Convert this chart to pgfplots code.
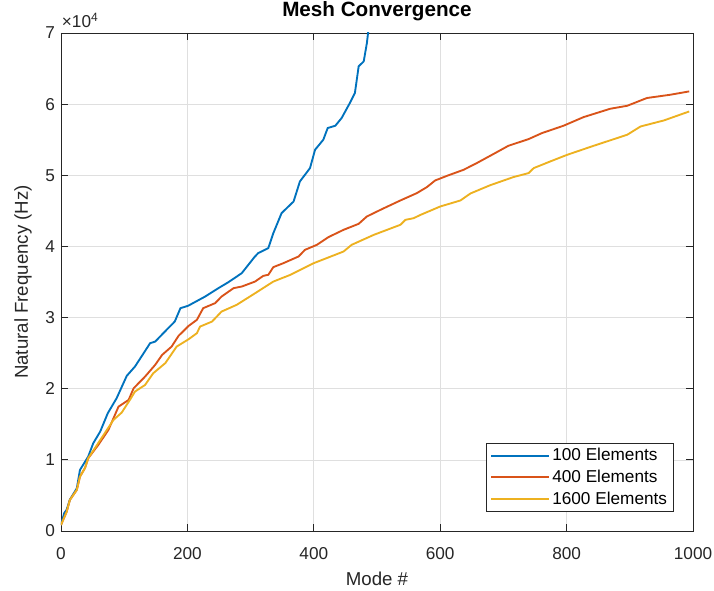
\documentclass[border=0pt]{standalone}
\usepackage{fontspec}
\setmainfont{Liberation Sans}
\usepackage{pgfplots}
\pgfplotsset{compat=1.18}
\usetikzlibrary{calc}
\definecolor{mblue}{RGB}{0,114,189}
\definecolor{mred}{RGB}{217,83,25}
\definecolor{myellow}{RGB}{237,177,32}
\definecolor{axgray}{RGB}{38,38,38}
\begin{document}
\begin{tikzpicture}
\begin{axis}[
  scale only axis,
  width=474pt, height=373.5pt,
  xmin=0, xmax=1000, ymin=0, ymax=70000,
  xtick={0,200,400,600,800,1000},
  ytick={0,10000,20000,30000,40000,50000,60000,70000},
  yticklabels={0,1,2,3,4,5,6,7},
  scaled y ticks=false,
  /pgf/number format/1000 sep={},
  /pgf/number format/assume math mode=true,
  tick label style={font=\fontsize{12.9}{15}\selectfont, color=axgray},
  xticklabel style={yshift=-9pt},
  yticklabel style={xshift=-1pt},
  tick align=inside,
  major tick length=5pt,
  axis line style={axgray, line width=0.6pt},
  every tick/.style={axgray, line width=0.6pt},
  grid=major,
  major grid style={gray!25, line width=0.5pt},
  title={\textbf{Mesh Convergence}},
  title style={font=\fontsize{15.5}{18}\selectfont, at={(0.5,1)}, anchor=south, inner sep=0pt, yshift=3pt},
  xlabel={Mode \#},
  ylabel={Natural Frequency (Hz)},
  label style={font=\fontsize{14}{16}\selectfont, color=axgray},
  xlabel style={at={(axis description cs:0.5,0)}, anchor=center, inner sep=0pt, yshift=-36pt},
  ylabel style={at={(axis description cs:-0.0601,0.5)}, anchor=center, inner sep=0pt},
  legend style={at={(0.970,0.038)}, anchor=south east, font=\fontsize{12.9}{15}\selectfont,
    draw=axgray, line width=0.5pt, fill=white, row sep=1.5pt, inner xsep=3pt, inner ysep=2pt},
  legend cell align=left,
  legend image code/.code={\draw[#1, line width=1.4pt] (0pt,0pt) -- (43pt,0pt);},
  clip=true,
]
\addplot[mblue, line width=1.4pt] coordinates {(0,850) (5,2500) (9,3000) (14,4400) (25,6000) (30,8580) (43,10450) (51,12330) (62,13970) (74,16550) (88,18660) (104,21800) (117,23110) (128,24610) (141,26400) (149,26620) (167,28270) (180,29440) (189,31320) (201,31650) (228,32950) (249,34130) (265,34980) (286,36240) (306,38490) (312,39060) (328,39760) (336,41870) (349,44680) (368,46310) (378,49130) (394,51010) (402,53590) (415,54990) (422,56640) (434,56960) (444,58040) (457,60150) (465,61560) (471,65310) (479,66010) (484,68590) (486,70100) (488,72000)};
\addlegendentry{100 Elements}
\addplot[mred, line width=1.4pt] coordinates {(0,850) (9,2710) (14,4360) (25,5770) (30,7640) (38,8860) (43,10220) (59,12100) (75,14200) (91,17480) (107,18420) (115,20070) (133,21700) (149,23350) (160,24750) (175,25920) (186,27430) (202,28830) (215,29680) (225,31320) (244,32030) (254,32950) (273,34130) (286,34360) (307,35060) (320,35860) (328,36010) (336,37090) (352,37650) (376,38590) (386,39520) (405,40230) (423,41300) (447,42330) (471,43180) (484,44210) (508,45250) (537,46460) (563,47490) (579,48340) (592,49270) (611,49930) (637,50770) (658,51720) (682,52880) (708,54150) (740,55090) (761,55930) (795,56960) (827,58180) (869,59350) (896,59770) (927,60860) (964,61320) (994,61790)};
\addlegendentry{400 Elements}
\addplot[myellow, line width=1.4pt] coordinates {(0,850) (9,2710) (14,4360) (25,5770) (30,7640) (38,8860) (43,10220) (64,13040) (83,15610) (96,16640) (109,18420) (117,19590) (133,20530) (146,22180) (165,23590) (183,25920) (202,26960) (215,27800) (220,28730) (239,29440) (254,30840) (278,31790) (305,33300) (336,35060) (363,36010) (400,37650) (447,39280) (460,40230) (495,41630) (537,43040) (545,43740) (558,43970) (569,44440) (600,45610) (632,46460) (648,47450) (679,48600) (716,49750) (740,50310) (748,51010) (774,51940) (801,52880) (843,54150) (896,55700) (917,56860) (954,57710) (994,58970)};
\addlegendentry{1600 Elements}
\end{axis}
\node[anchor=south west, font=\fontsize{12.9}{15}\selectfont, color=axgray, inner sep=0pt] at ($(current axis.north west)+(0.5pt,4pt)$) {×10\textsuperscript{4}};
\pgfresetboundingbox
\path ($(current axis.south west)+(-45.75pt,-45pt)$) rectangle ($(current axis.north east)+(15.75pt,24.75pt)$);
\end{tikzpicture}
\end{document}
